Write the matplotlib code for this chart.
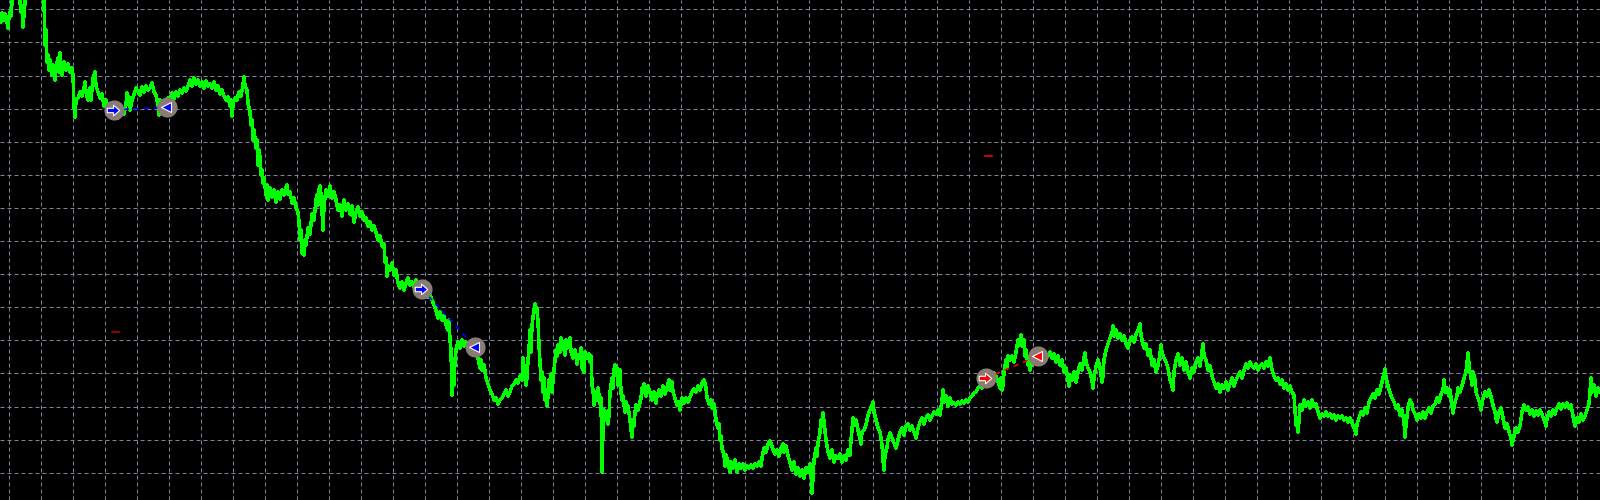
import numpy as np
import matplotlib
matplotlib.use('Agg')
import matplotlib.pyplot as plt
from matplotlib.path import Path

price_path = [
    (0, 15), (1, 22), (2, 13), (4, 20), (5, 14), (7, 22), (8, 28), (9, 17), (10, 12), (11, 16),
    (12, 2), (13, -10), (19, -10), (20, 2), (21, 12), (22, 6), (23, 27), (24, 14), (25, 3), (26, -10),
    (43, -10), (44, 0), (45, 45), (46, 30), (47, 62), (48, 55), (49, 70), (50, 60), (52, 75), (53, 65),
    (55, 80), (56, 68), (58, 58), (59, 72), (60, 53), (61, 65), (62, 75), (64, 62), (66, 70), (68, 64),
    (70, 72), (72, 68), (73, 75), (74, 105), (75, 117), (76, 100), (78, 98), (80, 92), (82, 96), (84, 88),
    (85, 82), (86, 92), (88, 100), (90, 88), (91, 100), (93, 78), (95, 72), (96, 86), (98, 92), (100, 98),
    (102, 94), (104, 106), (106, 100), (108, 108), (110, 112), (112, 108), (114, 116), (116, 110), (118, 118), (120, 112),
    (122, 108), (124, 114), (126, 104), (127, 93), (128, 103), (129, 97), (130, 110), (132, 100), (134, 95), (136, 88),
    (138, 92), (140, 95), (142, 87), (144, 92), (146, 86), (148, 90), (150, 88), (152, 83), (154, 92), (156, 95),
    (158, 105), (159, 115), (160, 100), (162, 112), (164, 104), (166, 108), (168, 98), (170, 100), (172, 93), (174, 99),
    (176, 92), (178, 96), (180, 90), (182, 93), (184, 88), (186, 91), (188, 86), (190, 80), (192, 86), (194, 78),
    (196, 84), (198, 80), (200, 86), (202, 82), (204, 88), (206, 81), (208, 86), (210, 84), (212, 88), (214, 82),
    (216, 90), (218, 86), (220, 94), (222, 90), (224, 96), (226, 100), (228, 97), (230, 106), (231, 100), (232, 116),
    (233, 104), (235, 98), (237, 100), (239, 92), (241, 96), (243, 85), (244, 77), (245, 86), (247, 90), (248, 103),
    (250, 112), (251, 125), (252, 120), (253, 140), (254, 130), (256, 148), (257, 140), (258, 165), (259, 150), (260, 158),
    (261, 175), (262, 170), (263, 183), (264, 178), (266, 195), (267, 185), (268, 200), (270, 188), (272, 197), (274, 190),
    (276, 202), (278, 192), (280, 199), (282, 190), (284, 195), (286, 187), (287, 185), (288, 194), (290, 192), (292, 203),
    (294, 198), (296, 208), (298, 212), (299, 222), (300, 240), (301, 230), (302, 253), (303, 248), (304, 255), (305, 240),
    (306, 245), (308, 228), (310, 234), (312, 214), (314, 220), (316, 200), (317, 195), (318, 205), (319, 190), (320, 186),
    (321, 195), (322, 210), (323, 230), (324, 205), (326, 190), (328, 196), (330, 186), (332, 198), (334, 192), (336, 200),
    (338, 210), (340, 205), (342, 216), (344, 200), (346, 210), (348, 204), (350, 214), (352, 206), (354, 222), (356, 212),
    (358, 207), (360, 216), (362, 212), (364, 220), (366, 218), (368, 226), (370, 222), (372, 230), (374, 226), (376, 232),
    (378, 240), (380, 236), (382, 246), (384, 244), (385, 262), (386, 258), (387, 276), (388, 266), (390, 270), (392, 263),
    (394, 275), (396, 270), (398, 283), (400, 288), (402, 282), (404, 290), (406, 283), (408, 278), (410, 285), (412, 282),
    (414, 287), (416, 280), (418, 284), (420, 286), (422, 289), (424, 293), (426, 290), (428, 297), (430, 295), (432, 300),
    (434, 305), (436, 310), (438, 318), (440, 312), (442, 320), (444, 316), (446, 325), (448, 330), (449, 320), (450, 340),
    (451, 350), (452, 395), (453, 370), (454, 385), (455, 360), (456, 350), (458, 342), (460, 348), (462, 340), (464, 346),
    (466, 342), (468, 348), (470, 343), (472, 347), (474, 350), (476, 352), (478, 358), (480, 368), (481, 360), (482, 370),
    (484, 365), (486, 378), (488, 384), (490, 390), (492, 394), (494, 400), (496, 398), (498, 404), (500, 400), (502, 398),
    (504, 394), (506, 390), (508, 396), (510, 392), (512, 386), (514, 384), (516, 380), (518, 383), (520, 376), (522, 380),
    (523, 358), (524, 372), (525, 366), (526, 385), (527, 378), (528, 360), (529, 350), (530, 330), (531, 352), (532, 325),
    (533, 318), (534, 310), (535, 304), (536, 312), (537, 308), (538, 322), (539, 345), (540, 362), (541, 380), (542, 372),
    (543, 392), (544, 378), (545, 400), (546, 390), (547, 406), (548, 396), (549, 380), (550, 388), (551, 374), (552, 392),
    (553, 380), (554, 370), (555, 360), (556, 350), (557, 356), (558, 345), (560, 352), (561, 338), (562, 346), (563, 342),
    (565, 355), (566, 340), (567, 348), (569, 346), (570, 338), (571, 352), (573, 358), (575, 350), (577, 364), (578, 355),
    (580, 358), (581, 348), (582, 368), (584, 372), (585, 352), (587, 358), (589, 354), (590, 362), (591, 356), (592, 385),
    (593, 390), (594, 405), (595, 392), (597, 400), (598, 388), (600, 404), (601, 398), (602, 472), (603, 430), (604, 410),
    (605, 420), (606, 412), (608, 424), (609, 415), (610, 392), (611, 385), (612, 378), (613, 388), (614, 370), (615, 365),
    (616, 375), (617, 368), (618, 385), (619, 380), (620, 370), (621, 392), (622, 400), (623, 396), (625, 412), (626, 402),
    (627, 410), (628, 406), (630, 420), (631, 430), (632, 437), (633, 420), (634, 426), (635, 412), (636, 405), (638, 410),
    (640, 402), (641, 398), (642, 388), (643, 392), (644, 384), (646, 396), (648, 386), (650, 392), (652, 400), (654, 392),
    (656, 403), (657, 396), (659, 390), (661, 396), (663, 386), (665, 394), (667, 388), (669, 380), (670, 390), (672, 382),
    (673, 392), (675, 398), (677, 405), (679, 402), (680, 410), (682, 398), (684, 403), (686, 398), (688, 402), (690, 397),
    (692, 392), (694, 389), (696, 392), (698, 386), (700, 390), (702, 383), (704, 380), (706, 388), (707, 398), (709, 404),
    (711, 400), (712, 408), (714, 404), (716, 420), (718, 428), (719, 424), (720, 440), (721, 436), (722, 448), (724, 455),
    (725, 466), (726, 455), (728, 462), (730, 472), (731, 462), (733, 468), (735, 460), (737, 472), (739, 464), (741, 468),
    (743, 464), (745, 470), (747, 466), (749, 468), (751, 465), (753, 468), (755, 464), (757, 466), (759, 462), (761, 466),
    (762, 458), (764, 448), (766, 452), (768, 444), (770, 441), (772, 446), (773, 450), (775, 454), (777, 450), (779, 456),
    (781, 448), (783, 444), (784, 452), (786, 446), (788, 456), (790, 462), (792, 470), (794, 462), (796, 474), (798, 468),
    (800, 476), (802, 470), (804, 478), (806, 468), (808, 472), (810, 464), (811, 470), (812, 493), (813, 478), (814, 460),
    (816, 448), (817, 456), (818, 443), (820, 432), (821, 420), (822, 426), (823, 413), (824, 422), (825, 430), (826, 440),
    (828, 452), (830, 458), (832, 450), (834, 462), (836, 456), (838, 458), (840, 454), (842, 462), (844, 456), (846, 460),
    (848, 450), (850, 455), (851, 440), (852, 430), (853, 418), (854, 425), (856, 420), (858, 430), (860, 438), (861, 444),
    (862, 432), (864, 430), (866, 425), (868, 415), (870, 410), (872, 405), (873, 402), (874, 412), (876, 420), (878, 428),
    (880, 432), (882, 445), (883, 460), (884, 470), (885, 455), (887, 447), (888, 440), (890, 433), (892, 438), (894, 443),
    (896, 448), (898, 440), (900, 432), (902, 428), (904, 435), (906, 426), (908, 424), (910, 430), (912, 426), (914, 432),
    (916, 438), (918, 428), (920, 422), (922, 418), (924, 424), (926, 418), (928, 415), (930, 420), (932, 416), (934, 412),
    (936, 414), (938, 410), (940, 415), (942, 400), (943, 390), (944, 402), (946, 396), (948, 406), (950, 398), (952, 404),
    (954, 403), (956, 405), (958, 402), (960, 404), (962, 401), (964, 403), (966, 400), (968, 402), (970, 398), (972, 396),
    (974, 393), (976, 392), (978, 388), (980, 386), (982, 388), (984, 380), (986, 378), (988, 382), (990, 374), (992, 378),
    (994, 373), (996, 376), (998, 382), (1000, 388), (1001, 378), (1002, 390), (1003, 385), (1004, 372), (1006, 360), (1007, 368),
    (1008, 356), (1010, 360), (1012, 356), (1014, 362), (1016, 352), (1018, 340), (1020, 345), (1021, 335), (1022, 346), (1024, 340),
    (1025, 356), (1026, 350), (1028, 365), (1029, 358), (1030, 370), (1032, 360), (1034, 358), (1036, 362), (1038, 350), (1040, 358),
    (1042, 352), (1044, 362), (1046, 354), (1048, 356), (1050, 352), (1052, 358), (1054, 354), (1056, 362), (1058, 356), (1060, 365),
    (1062, 360), (1064, 372), (1066, 368), (1068, 380), (1069, 386), (1070, 375), (1072, 380), (1074, 372), (1076, 382), (1078, 372),
    (1080, 364), (1082, 370), (1084, 358), (1085, 353), (1086, 362), (1088, 368), (1090, 372), (1092, 380), (1093, 388), (1094, 378),
    (1096, 366), (1098, 360), (1100, 368), (1102, 382), (1103, 376), (1104, 360), (1106, 350), (1108, 344), (1110, 338), (1112, 333),
    (1113, 326), (1114, 336), (1116, 330), (1118, 338), (1120, 334), (1122, 340), (1124, 336), (1126, 344), (1128, 348), (1130, 340),
    (1132, 337), (1134, 342), (1136, 334), (1138, 330), (1140, 324), (1141, 335), (1142, 340), (1144, 348), (1146, 344), (1148, 355),
    (1150, 350), (1152, 365), (1154, 360), (1156, 372), (1158, 365), (1160, 354), (1161, 345), (1162, 352), (1164, 358), (1166, 362),
    (1168, 368), (1170, 380), (1172, 386), (1173, 390), (1174, 372), (1176, 360), (1178, 354), (1180, 365), (1182, 358), (1184, 370),
    (1186, 362), (1188, 372), (1190, 378), (1192, 368), (1194, 372), (1196, 362), (1198, 358), (1200, 366), (1202, 352), (1203, 344),
    (1204, 356), (1206, 360), (1208, 370), (1210, 366), (1212, 376), (1214, 382), (1216, 388), (1218, 384), (1220, 392), (1222, 385),
    (1224, 388), (1226, 382), (1228, 390), (1230, 384), (1232, 378), (1234, 386), (1236, 380), (1238, 376), (1240, 372), (1242, 378),
    (1244, 370), (1246, 364), (1248, 368), (1250, 362), (1252, 366), (1254, 368), (1256, 364), (1258, 370), (1260, 366), (1262, 364),
    (1264, 368), (1266, 362), (1268, 366), (1270, 358), (1272, 370), (1274, 376), (1276, 380), (1278, 378), (1280, 384), (1282, 380),
    (1284, 388), (1286, 384), (1288, 390), (1290, 386), (1292, 392), (1294, 395), (1295, 410), (1296, 425), (1297, 418), (1298, 432),
    (1299, 420), (1300, 405), (1302, 410), (1304, 400), (1306, 406), (1308, 402), (1310, 408), (1312, 400), (1314, 406), (1316, 404),
    (1318, 412), (1320, 418), (1322, 414), (1324, 416), (1326, 412), (1328, 416), (1330, 414), (1332, 418), (1334, 415), (1336, 420),
    (1338, 416), (1340, 418), (1342, 416), (1344, 420), (1346, 418), (1348, 422), (1350, 418), (1352, 423), (1354, 428), (1356, 434),
    (1357, 424), (1359, 418), (1361, 412), (1363, 415), (1365, 408), (1367, 413), (1369, 402), (1371, 398), (1373, 394), (1375, 398),
    (1377, 390), (1379, 394), (1381, 386), (1383, 378), (1385, 369), (1386, 378), (1388, 386), (1390, 393), (1392, 398), (1394, 402),
    (1396, 408), (1398, 405), (1400, 415), (1402, 410), (1404, 422), (1405, 437), (1406, 425), (1408, 408), (1410, 400), (1412, 404),
    (1413, 410), (1415, 414), (1417, 420), (1419, 414), (1421, 418), (1423, 412), (1425, 418), (1427, 412), (1429, 408), (1431, 413),
    (1433, 406), (1435, 404), (1437, 398), (1439, 402), (1441, 394), (1443, 390), (1444, 380), (1445, 392), (1447, 388), (1449, 396),
    (1450, 390), (1452, 405), (1453, 413), (1455, 402), (1457, 396), (1458, 388), (1460, 392), (1462, 386), (1464, 378), (1466, 372),
    (1467, 363), (1468, 353), (1469, 365), (1470, 372), (1471, 378), (1472, 385), (1473, 372), (1475, 380), (1476, 392), (1478, 398),
    (1480, 404), (1481, 410), (1483, 398), (1485, 392), (1487, 396), (1489, 390), (1491, 397), (1493, 405), (1495, 412), (1496, 418),
    (1497, 422), (1499, 412), (1501, 408), (1503, 418), (1505, 428), (1507, 424), (1509, 432), (1511, 438), (1512, 445), (1514, 436),
    (1516, 428), (1518, 432), (1520, 426), (1522, 412), (1524, 405), (1526, 410), (1528, 407), (1530, 414), (1532, 410), (1534, 416),
    (1536, 411), (1538, 415), (1540, 410), (1542, 414), (1544, 420), (1546, 426), (1547, 418), (1549, 412), (1551, 416), (1553, 410),
    (1555, 414), (1557, 408), (1559, 404), (1561, 409), (1563, 404), (1565, 407), (1567, 403), (1569, 408), (1571, 405), (1573, 416),
    (1575, 426), (1577, 418), (1579, 422), (1581, 414), (1583, 420), (1585, 416), (1587, 410), (1589, 404), (1590, 392), (1591, 378),
    (1592, 392), (1594, 385), (1596, 396), (1598, 388), (1600, 392),
]
bar_x = [p[0] for p in price_path]
price = [p[1] for p in price_path]

# Trades: open / close positions and direction colour
open_x = [114, 422, 986]
open_price = [110, 289, 378]
close_x = [167, 475, 1038]
close_price = [107, 347, 356]
trade_color = ['#0000ff', '#0000ff', '#ff0000']

# small stop level marks
level_x = [115, 988]
level_price = [332, 156]
level_color = ['#b00000', '#ff0000']

fig = plt.figure(figsize=(16, 5), dpi=100)
fig.patch.set_facecolor('black')
ax = fig.add_axes([0, 0, 1, 1])
ax.set_facecolor('black')

ax.set_xlim(0, 1600)
ax.set_ylim(500, 0)

# MT4 style grid
ax.set_xticks(np.arange(9.3, 1600, 32))
ax.set_yticks(np.arange(9.3, 500, 33.1))
ax.grid(True, color='#7a8799', linewidth=0.72, linestyle=(0, (4, 3)))
ax.tick_params(length=0, labelbottom=False, labelleft=False)
for s in ax.spines.values():
    s.set_visible(False)

ax.plot(bar_x, price, color='#00ff00', linewidth=1.8, antialiased=False, zorder=3)

# right arrow marker for trade entry
arrow = Path([(-1, -0.35), (0, -0.35), (0, -0.85), (1, 0), (0, 0.85), (0, 0.35), (-1, 0.35), (-1, -0.35)],
             [Path.MOVETO] + [Path.LINETO] * 6 + [Path.CLOSEPOLY])

for i in range(len(open_x)):
    ax.plot([open_x[i], close_x[i]], [open_price[i], close_price[i]], color=trade_color[i],
            linewidth=1.2, linestyle=(0, (3, 3)), zorder=4)
    ax.plot(open_x[i], open_price[i], 'o', markersize=14.5, color='#887c74', markeredgewidth=0, zorder=5)
    ax.plot(close_x[i], close_price[i], 'o', markersize=14.5, color='#887c74', markeredgewidth=0, zorder=5)
    ax.plot(open_x[i] - 1, open_price[i], marker=arrow, markersize=9, color=trade_color[i],
            markeredgecolor='white', markeredgewidth=0.8, zorder=6)
    ax.plot(close_x[i] - 1, close_price[i], marker='<', markersize=7, color=trade_color[i],
            markeredgecolor='white', markeredgewidth=0.8, zorder=6)

for i in range(len(level_x)):
    ax.plot([level_x[i] - 3, level_x[i] + 4], [level_price[i], level_price[i]], color=level_color[i],
            linewidth=1.2, zorder=4)

plt.savefig('out.png', dpi=100, facecolor='black')
